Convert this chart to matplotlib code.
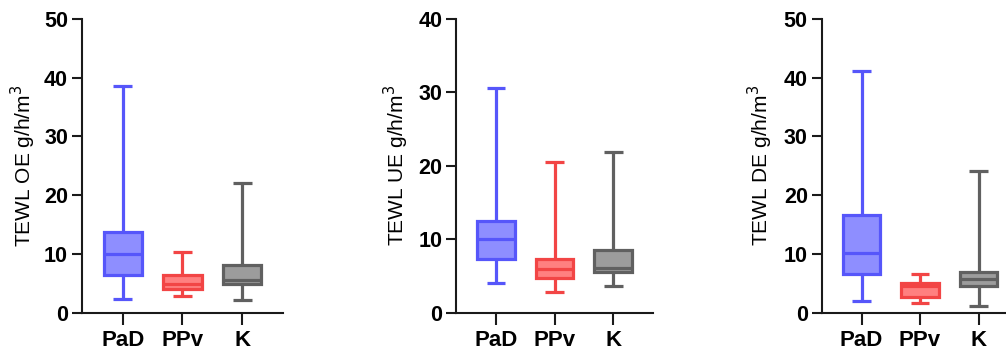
import matplotlib.pyplot as plt

plt.rcParams['font.family'] = ['Liberation Sans', 'DejaVu Sans']

groups = ['PaD', 'PPv', 'K']
edge_colors = ['#5656FA', '#F24545', '#606060']
fill_colors = ['#8E8EFF', '#FF8080', '#9C9C9C']

# five-number summaries per group: min, q1, median, q3, max
oe_min = [2.4, 2.9, 2.2]
oe_q1 = [6.4, 4.0, 4.9]
oe_med = [10.0, 4.9, 5.6]
oe_q3 = [13.7, 6.5, 8.1]
oe_max = [38.6, 10.3, 22.1]

ue_min = [4.1, 2.9, 3.7]
ue_q1 = [7.3, 4.8, 5.5]
ue_med = [10.0, 6.0, 6.1]
ue_q3 = [12.5, 7.4, 8.6]
ue_max = [30.6, 20.5, 21.9]

de_min = [2.1, 1.7, 1.1]
de_q1 = [6.6, 2.7, 4.5]
de_med = [10.2, 4.6, 5.8]
de_q3 = [16.7, 5.1, 6.9]
de_max = [41.1, 6.7, 24.1]

panels = [
    ('TEWL OE g/h/m$^3$', 50, (oe_min, oe_q1, oe_med, oe_q3, oe_max), [0.0815, 0.121, 0.1998, 0.826], 38),
    ('TEWL UE g/h/m$^3$', 40, (ue_min, ue_q1, ue_med, ue_q3, ue_max), [0.4533, 0.121, 0.1958, 0.826], 411),
    ('TEWL DE g/h/m$^3$', 50, (de_min, de_q1, de_med, de_q3, de_max), [0.8168, 0.121, 0.1955, 0.826], 775),
]

fig = plt.figure(figsize=(10.06, 3.56), dpi=100)

for ylabel, ymax, (mn, q1, med, q3, mx), rect, label_x in panels:
    ax = fig.add_axes(rect)
    stats = [dict(whislo=a, q1=b, med=c, q3=d, whishi=e, fliers=[], label=g)
             for a, b, c, d, e, g in zip(mn, q1, med, q3, mx, groups)]
    out = ax.bxp(stats, positions=[1, 2, 3], widths=0.64, capwidths=0.32,
                 showfliers=False, patch_artist=True)
    for i in range(3):
        out['boxes'][i].set(facecolor=fill_colors[i], edgecolor=edge_colors[i], linewidth=2.3)
        out['medians'][i].set(color=edge_colors[i], linewidth=2.3)
        for ln in out['whiskers'][2 * i:2 * i + 2] + out['caps'][2 * i:2 * i + 2]:
            ln.set(color=edge_colors[i], linewidth=2.3)
            ln.set_solid_capstyle('butt')

    ax.set_xlim(0.32, 3.68)
    ax.set_ylim(0, ymax)
    ax.set_yticks(range(0, ymax + 1, 10))
    for s in ['top', 'right']:
        ax.spines[s].set_visible(False)
    for s in ['left', 'bottom']:
        ax.spines[s].set_linewidth(1.5)
        ax.spines[s].set_color('#1a1a1a')
    ax.tick_params(axis='y', length=7, width=1.5, pad=3, labelsize=15.5, color='#1a1a1a')
    ax.tick_params(axis='x', length=8.5, width=1.5, pad=4, labelsize=16, color='#1a1a1a')
    for t in ax.get_xticklabels() + ax.get_yticklabels():
        t.set_fontweight('bold')
    ax.set_ylabel(ylabel, fontsize=15)
    ax.yaxis.set_label_coords((label_x - rect[0] * 1006) / (rect[2] * 1006), 0.5)

fig.savefig('out.png', dpi=100)
